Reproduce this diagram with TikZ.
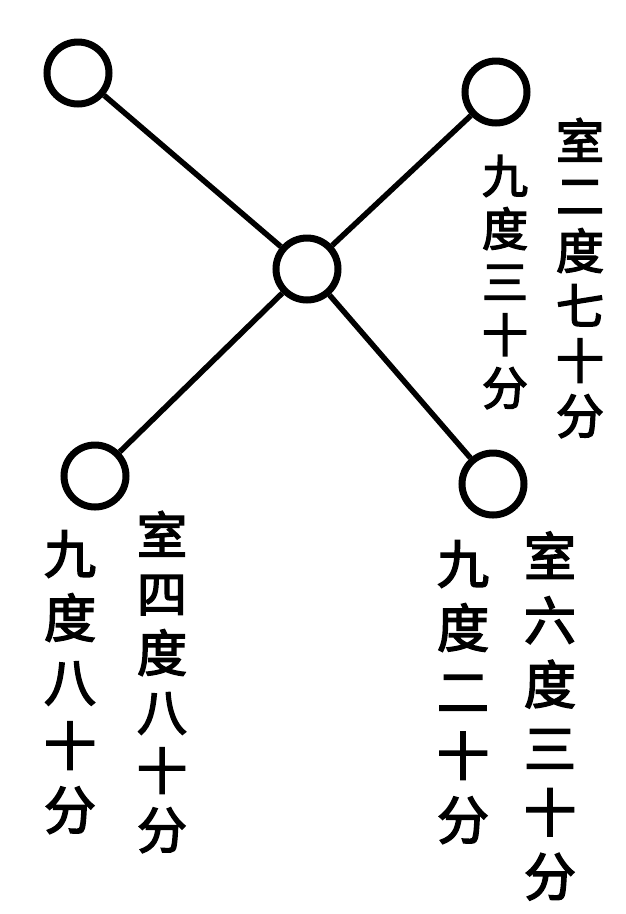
\documentclass[tikz,border=0pt]{standalone}
\usepackage{fontspec}
\newfontfamily\cjk{Noto Sans CJK SC}[FakeBold=3]
\begin{document}
\begin{tikzpicture}[x=1pt,y=-1pt,
  star/.style={circle,draw=black,line width=7pt,minimum size=62pt,inner sep=0pt,fill=white},
  link/.style={line width=5.5pt,black},
  vtext/.style 2 args={align=center,inner sep=0pt,font=\cjk\fontsize{#1}{#2}\selectfont}]
\useasboundingbox[fill=white] (0,0) rectangle (625,914);
\node[star] (c) at (307,269) {};
\node[star] (tl) at (78,73) {};
\node[star] (tr) at (496,92) {};
\node[star] (bl) at (95,476) {};
\node[star] (br) at (493,484) {};
\draw[link] (c) -- (tl);
\draw[link] (c) -- (tr);
\draw[link] (c) -- (bl);
\draw[link] (c) -- (br);
\node[vtext={48}{55}] (t1) at (580,278) {室\\二\\度\\七\\十\\分};
\node[vtext={46}{53}] (t2) at (505,282) {九\\度\\三\\十\\分};
\node[vtext={50}{59}] (t3) at (162,682) {室\\四\\度\\八\\十\\分};
\node[vtext={52}{64}] (t4) at (70,682) {九\\度\\八\\十\\分};
\node[vtext={52}{64}] (t5) at (550,716) {室\\六\\度\\三\\十\\分};
\node[vtext={52}{64}] (t6) at (463,692) {九\\度\\二\\十\\分};
\end{tikzpicture}
\end{document}
